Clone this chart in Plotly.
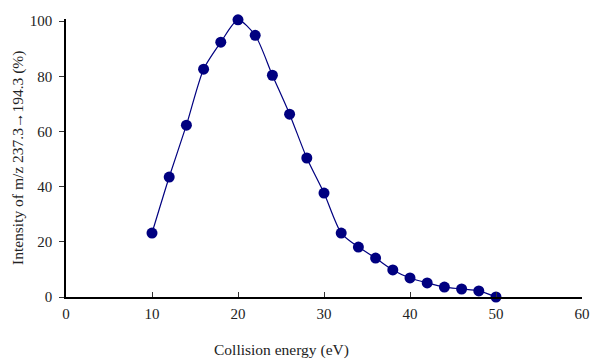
import plotly.graph_objects as go

energy = [10, 12, 14, 16, 18, 20, 22, 24, 26, 28, 30, 32, 34, 36, 38, 40, 42, 44, 46, 48, 50]
intensity = [23.2, 43.5, 62.3, 82.6, 92.4, 100.5, 94.9, 80.4, 66.3, 50.4, 37.7, 23.2, 18.1, 14.1, 9.8, 6.9, 5.1, 3.6, 2.9, 2.2, 0.0]

x_ticks = [0, 10, 20, 30, 40, 50, 60]
y_ticks = [0, 20, 40, 60, 80, 100]

x_title = "Collision energy (eV)"
y_title = "Intensity of m/z 237.3→194.3 (%)"

navy = "#000080"
font_family = "Liberation Serif, DejaVu Serif, serif"

fig = go.Figure()
fig.add_trace(go.Scatter(
    x=energy, y=intensity, mode="lines+markers",
    line=dict(color=navy, width=1.2, shape="spline", smoothing=0.7),
    marker=dict(color=navy, size=11),
    cliponaxis=False, showlegend=False,
))

fig.update_layout(
    width=592, height=359,
    margin=dict(l=66, r=10, t=19, b=62),
    plot_bgcolor="white", paper_bgcolor="white",
    font=dict(family=font_family, size=15, color="#222"),
    annotations=[
        dict(text=x_title, xref="paper", yref="paper", x=0.4186, y=-0.192,
             xanchor="center", yanchor="middle", showarrow=False, font=dict(size=15.5)),
        dict(text=y_title, xref="paper", yref="paper", x=-0.093, y=0.5,
             xanchor="center", yanchor="middle", textangle=-90, showarrow=False, font=dict(size=15.5)),
    ],
)
fig.update_xaxes(
    range=[0, 60], tickvals=x_ticks, ticks="inside", ticklen=5, tickcolor="#333",
    showline=True, linecolor="black", linewidth=1.5, showgrid=False, zeroline=False,
    tickfont=dict(size=15), automargin=False, ticklabelstandoff=2,
)
fig.update_yaxes(
    range=[0, 100.8], tickvals=y_ticks, ticks="outside", ticklen=5, tickcolor="#333",
    showline=True, linecolor="black", linewidth=1.5, showgrid=False, zeroline=False,
    tickfont=dict(size=15), automargin=False, ticklabelstandoff=4,
)

fig.write_html("out.html", config={"displayModeBar": False},
               post_script="document.body.style.margin='0px';")
